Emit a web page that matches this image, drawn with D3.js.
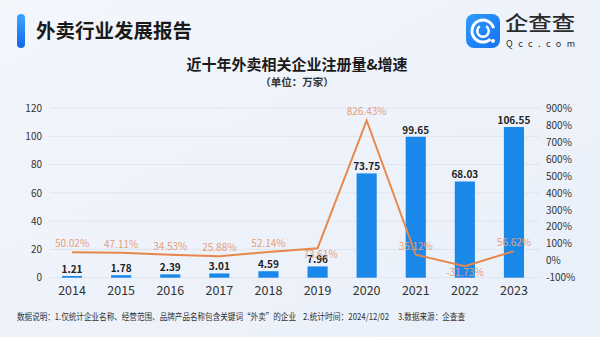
<!DOCTYPE html>
<html>
<head>
<meta charset="utf-8">
<script src="https://cdn.jsdelivr.net/npm/d3@7"></script>
<style>
  html, body { margin: 0; padding: 0; }
  body { width: 600px; height: 337px; overflow: hidden; }
  svg { display: block; font-family: "Noto Sans CJK SC", "Noto Sans", sans-serif; }
</style>
</head>
<body>
<svg id="chart" width="600" height="337"></svg>
<script>
// Registered takeaway-related companies (10k) and year-over-year growth
const years = ["2014", "2015", "2016", "2017", "2018", "2019", "2020", "2021", "2022", "2023"];
const registrations = [1.21, 1.78, 2.39, 3.01, 4.59, 7.96, 73.75, 99.65, 68.03, 106.55];
const growth = [50.02, 47.11, 34.53, 25.88, 52.14, 73.61, 826.43, 35.12, -31.73, 56.62];
const leftTicks = [0, 20, 40, 60, 80, 100, 120];
const rightTicks = [-100, 0, 100, 200, 300, 400, 500, 600, 700, 800, 900];
const notes = [
  "数据说明：1.仅统计企业名称、经营范围、品牌产品名称包含关键词“外卖”的企业",
  "2.统计时间：2024/12/02",
  "3.数据来源：企查查"
];

const svg = d3.select("#chart");
const W = 600, H = 337;

// background
const defs = svg.append("defs");
const bg = defs.append("linearGradient").attr("id", "bg")
  .attr("x1", "0").attr("y1", "0").attr("x2", "1").attr("y2", "1");
bg.append("stop").attr("offset", "0").attr("stop-color", "#f3f6fb");
bg.append("stop").attr("offset", "0.5").attr("stop-color", "#eef2fa");
bg.append("stop").attr("offset", "1").attr("stop-color", "#e9f0fa");
svg.append("rect").attr("width", W).attr("height", H).attr("fill", "url(#bg)");

const accent = defs.append("linearGradient").attr("id", "accent")
  .attr("x1", "0").attr("y1", "0").attr("x2", "0").attr("y2", "1");
accent.append("stop").attr("offset", "0").attr("stop-color", "#3aa6ff");
accent.append("stop").attr("offset", "1").attr("stop-color", "#1667e8");

// header
svg.append("rect").attr("x", 17).attr("y", 14).attr("width", 8).attr("height", 34)
  .attr("rx", 4).attr("fill", "url(#accent)");
svg.append("text").attr("x", 36).attr("y", 38)
  .attr("font-size", 19.5).attr("font-weight", 700).attr("fill", "#1a1a1a")
  .text("外卖行业发展报告");

// brand mark
const logo = svg.append("g").attr("transform", "translate(466,14)");
const lg = defs.append("linearGradient").attr("id", "logoGrad")
  .attr("x1", "0").attr("y1", "0").attr("x2", "1").attr("y2", "1");
lg.append("stop").attr("offset", "0").attr("stop-color", "#2f9bff");
lg.append("stop").attr("offset", "1").attr("stop-color", "#1572f0");
logo.append("rect").attr("width", 34).attr("height", 34).attr("rx", 8).attr("fill", "url(#logoGrad)");
const arc = d3.arc();
logo.append("path").attr("transform", "translate(17,17)")
  .attr("d", arc({innerRadius: 9.5, outerRadius: 12.5, startAngle: 2.4, endAngle: 2 * Math.PI + 1.3}))
  .attr("fill", "#fff");
logo.append("path").attr("transform", "translate(17,17)")
  .attr("d", arc({innerRadius: 4.5, outerRadius: 7, startAngle: 0.6, endAngle: 2 * Math.PI - 0.6}))
  .attr("fill", "#fff");
logo.append("circle").attr("cx", 27).attr("cy", 27).attr("r", 2).attr("fill", "#fff");
svg.append("text").attr("x", 505).attr("y", 31)
  .attr("font-size", 20).attr("font-weight", 500).attr("fill", "#2b2b2b")
  .attr("textLength", 70).attr("lengthAdjust", "spacingAndGlyphs").text("企查查");
svg.append("text").attr("x", 506).attr("y", 47)
  .attr("font-size", 9).attr("fill", "#2b2b2b")
  .attr("textLength", 69).text("Qcc.com");

// chart title
svg.append("text").attr("x", 297).attr("y", 70).attr("text-anchor", "middle")
  .attr("font-size", 15).attr("font-weight", 700).attr("fill", "#1a1a1a")
  .text("近十年外卖相关企业注册量&增速");
svg.append("text").attr("x", 297).attr("y", 86).attr("text-anchor", "middle")
  .attr("font-size", 10.5).attr("font-weight", 700).attr("fill", "#333")
  .text("（单位：万家）");

// scales
const x = d3.scaleBand().domain(years).range([47.5, 538.5]).paddingInner(0.59).paddingOuter(0.295);
const yL = d3.scaleLinear().domain([0, 120]).range([277.7, 108]);
const yR = d3.scaleLinear().domain([-100, 900]).range([277.7, 108]);
const cx = d => x(d) + x.bandwidth() / 2;

// grid
svg.append("g").selectAll("line").data(leftTicks).join("line")
  .attr("x1", 50).attr("x2", 540)
  .attr("y1", d => yL(d)).attr("y2", d => yL(d))
  .attr("stroke", "#dfe5ee").attr("stroke-width", 1);

// left axis
const axL = svg.append("g").attr("transform", "translate(44,0)")
  .call(d3.axisLeft(yL).tickValues(leftTicks).tickSize(0).tickPadding(2));
axL.select(".domain").remove();
axL.selectAll("text").attr("font-size", 10).attr("fill", "#333")
  .attr("font-family", "\"Noto Sans CJK SC\", sans-serif");

// right axis
const axR = svg.append("g").attr("transform", "translate(544,0)")
  .call(d3.axisRight(yR).tickValues(rightTicks).tickSize(0).tickPadding(2).tickFormat(d => d + "%"));
axR.select(".domain").remove();
axR.selectAll("text").attr("font-size", 10).attr("fill", "#333")
  .attr("font-family", "\"Noto Sans CJK SC\", sans-serif");

// bottom axis
const axB = svg.append("g").attr("transform", "translate(0,282)")
  .call(d3.axisBottom(x).tickSize(0).tickPadding(4));
axB.select(".domain").remove();
axB.selectAll("text").attr("font-size", 12.5).attr("fill", "#333")
  .attr("font-family", "\"Noto Sans CJK SC\", sans-serif");

// bars
const rows = years.map((yr, i) => ({ yr, v: registrations[i], g: growth[i] }));
svg.append("g").selectAll("rect").data(rows).join("rect")
  .attr("x", d => x(d.yr)).attr("width", x.bandwidth())
  .attr("y", d => yL(d.v)).attr("height", d => yL(0) - yL(d.v))
  .attr("fill", "#1a88e8");

svg.append("g").selectAll("text").data(rows).join("text")
  .attr("x", d => cx(d.yr)).attr("y", d => yL(d.v) - 3)
  .attr("text-anchor", "middle").attr("font-size", 10).attr("font-weight", 700)
  .attr("fill", "#222").text(d => d.v.toFixed(2));

// growth line
const line = d3.line().x(d => cx(d.yr)).y(d => yR(d.g));
svg.append("path").datum(rows).attr("d", line)
  .attr("fill", "none").attr("stroke", "#e8874b").attr("stroke-width", 2);

// growth labels: a few sit under the line
const below = new Set(["2019", "2022"]);
svg.append("g").selectAll("text").data(rows).join("text")
  .attr("x", d => cx(d.yr) + (d.yr === "2019" ? 3 : 0))
  .attr("y", d => below.has(d.yr) ? yR(d.g) + 10 : yR(d.g) - 5)
  .attr("text-anchor", "middle").attr("font-size", 10)
  .attr("fill", "#e3a07a").text(d => d.g.toFixed(2) + "%");

// footnote, three parts
const noteX = [17, 303, 398];
const noteW = [279, 86, 67];
svg.append("g").selectAll("text").data(notes).join("text")
  .attr("x", (d, i) => noteX[i]).attr("y", 320)
  .attr("font-size", 9).attr("fill", "#333")
  .attr("textLength", (d, i) => noteW[i]).attr("lengthAdjust", "spacingAndGlyphs")
  .text(d => d);
</script>
</body>
</html>
